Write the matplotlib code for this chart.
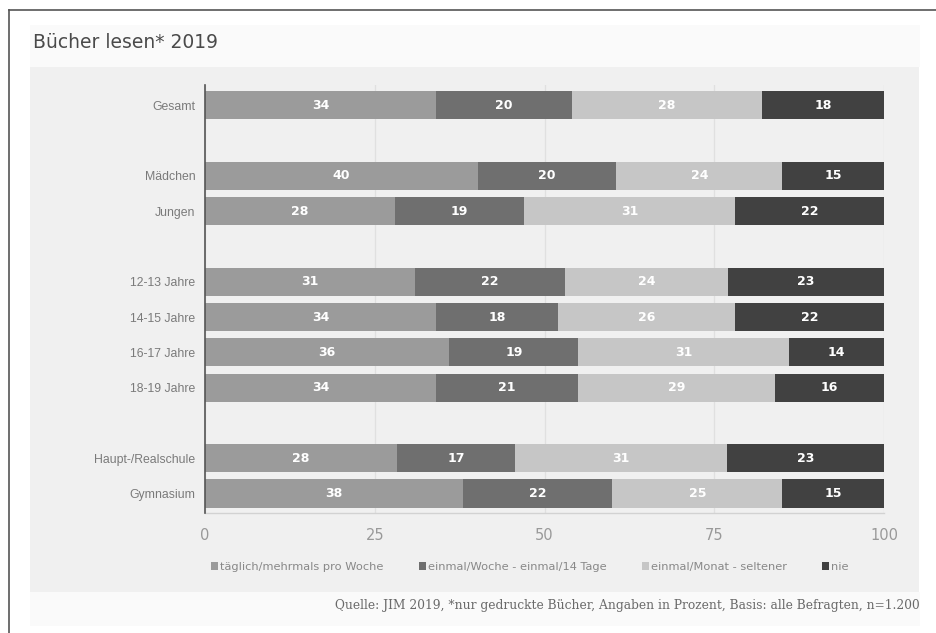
import matplotlib.pyplot as plt
from matplotlib.patches import Rectangle, Patch
from matplotlib.lines import Line2D

# data
groups = ['Gesamt', 'Mädchen', 'Jungen', '12-13 Jahre', '14-15 Jahre', '16-17 Jahre',
          '18-19 Jahre', 'Haupt-/Realschule', 'Gymnasium']
slots = [0, 2, 3, 5, 6, 7, 8, 10, 11]
taeglich = [34, 40.2, 28, 31, 34, 36, 34, 28.3, 38]
woche = [20, 20.4, 19, 22, 18, 19, 21, 17.4, 22]
monat = [28, 24.4, 31, 24, 26, 31, 29, 31.2, 25]
nie = [18, 15.0, 22, 23, 22, 14, 16, 23.1, 15]
series = [taeglich, woche, monat, nie]
series_names = ['täglich/mehrmals pro Woche', 'einmal/Woche - einmal/14 Tage',
                'einmal/Monat - seltener', 'nie']
colors = ['#9b9b9b', '#6f6f6f', '#c6c6c6', '#414141']
xticks = [0, 25, 50, 75, 100]

W, H = 936, 633
fig = plt.figure(figsize=(W / 100, H / 100), dpi=100)
fig.patch.set_facecolor('white')


def px_rect(x0, y0, x1, y1, color, z=-5):
    fig.patches.append(Rectangle((x0 / W, 1 - y1 / H), (x1 - x0) / W, (y1 - y0) / H,
                                 transform=fig.transFigure, facecolor=color,
                                 edgecolor='none', zorder=z))


# background bands
px_rect(30, 25, 920, 67, '#fafafa')
px_rect(30, 67, 919, 592, '#f0f0f0')
px_rect(30, 592, 920, 626, '#fafafa')

# frame lines
fig.lines.append(Line2D([9 / W, 9 / W], [0, 1 - 10 / H], transform=fig.transFigure,
                        color='#555555', lw=1.2))
fig.lines.append(Line2D([9 / W, 1], [1 - 10 / H, 1 - 10 / H], transform=fig.transFigure,
                        color='#555555', lw=1.2))

ax = fig.add_axes([205 / W, 1 - 513 / H, (884 - 205) / W, (513 - 85) / H])
ax.set_facecolor('none')
ax.set_zorder(2)

left = [0] * len(groups)
for vals, col in zip(series, colors):
    ax.barh(slots, vals, left=left, height=0.8, color=col, edgecolor='none', zorder=2)
    for s, v, l in zip(slots, vals, left):
        ax.text(l + v / 2, s, f'{round(v)}', ha='center', va='center', color='white',
                fontsize=9, fontweight='bold', zorder=3)
    left = [a + b for a, b in zip(left, vals)]

ax.set_xlim(0, 100)
ax.set_ylim(11.55, -0.57)
ax.set_xticks(xticks)
ax.set_xticklabels([str(t) for t in xticks], fontsize=10.5, color='#999999')
ax.set_yticks(slots)
ax.set_yticklabels(groups, fontsize=8.8, color='#7a7a7a', family='Liberation Sans')
ax.tick_params(axis='x', length=0, pad=11)
ax.tick_params(axis='y', length=0, pad=7)
ax.grid(axis='x', color='#e0e0e0', lw=0.9, zorder=1)
for sp in ['top', 'right']:
    ax.spines[sp].set_visible(False)
ax.spines['left'].set_color('#555555')
ax.spines['left'].set_linewidth(1.2)
ax.spines['left'].set_zorder(4)
ax.spines['bottom'].set_color('#d2d2d2')
ax.spines['bottom'].set_linewidth(1.0)

# title
fig.text(33 / W, 1 - 43 / H, 'Bücher lesen* 2019', fontsize=13.5, color='#4a4a4a',
         ha='left', va='center')

# legend
handles = [Patch(facecolor=c, edgecolor='none') for c in colors]
fig.legend(handles, series_names, loc='center', bbox_to_anchor=(530 / W, 1 - 567 / H),
           ncol=4, frameon=False, fontsize=8.2, handlelength=0.6, handleheight=0.6,
           handletextpad=0.2, columnspacing=3.1, labelcolor='#888888')

# source
fig.text(920 / W, 1 - 606 / H,
         'Quelle: JIM 2019, *nur gedruckte Bücher, Angaben in Prozent, Basis: alle Befragten, n=1.200',
         fontsize=8.8, color='#6a6a6a', ha='right', va='center', family='DejaVu Serif')

fig.savefig('out.png', dpi=100)
